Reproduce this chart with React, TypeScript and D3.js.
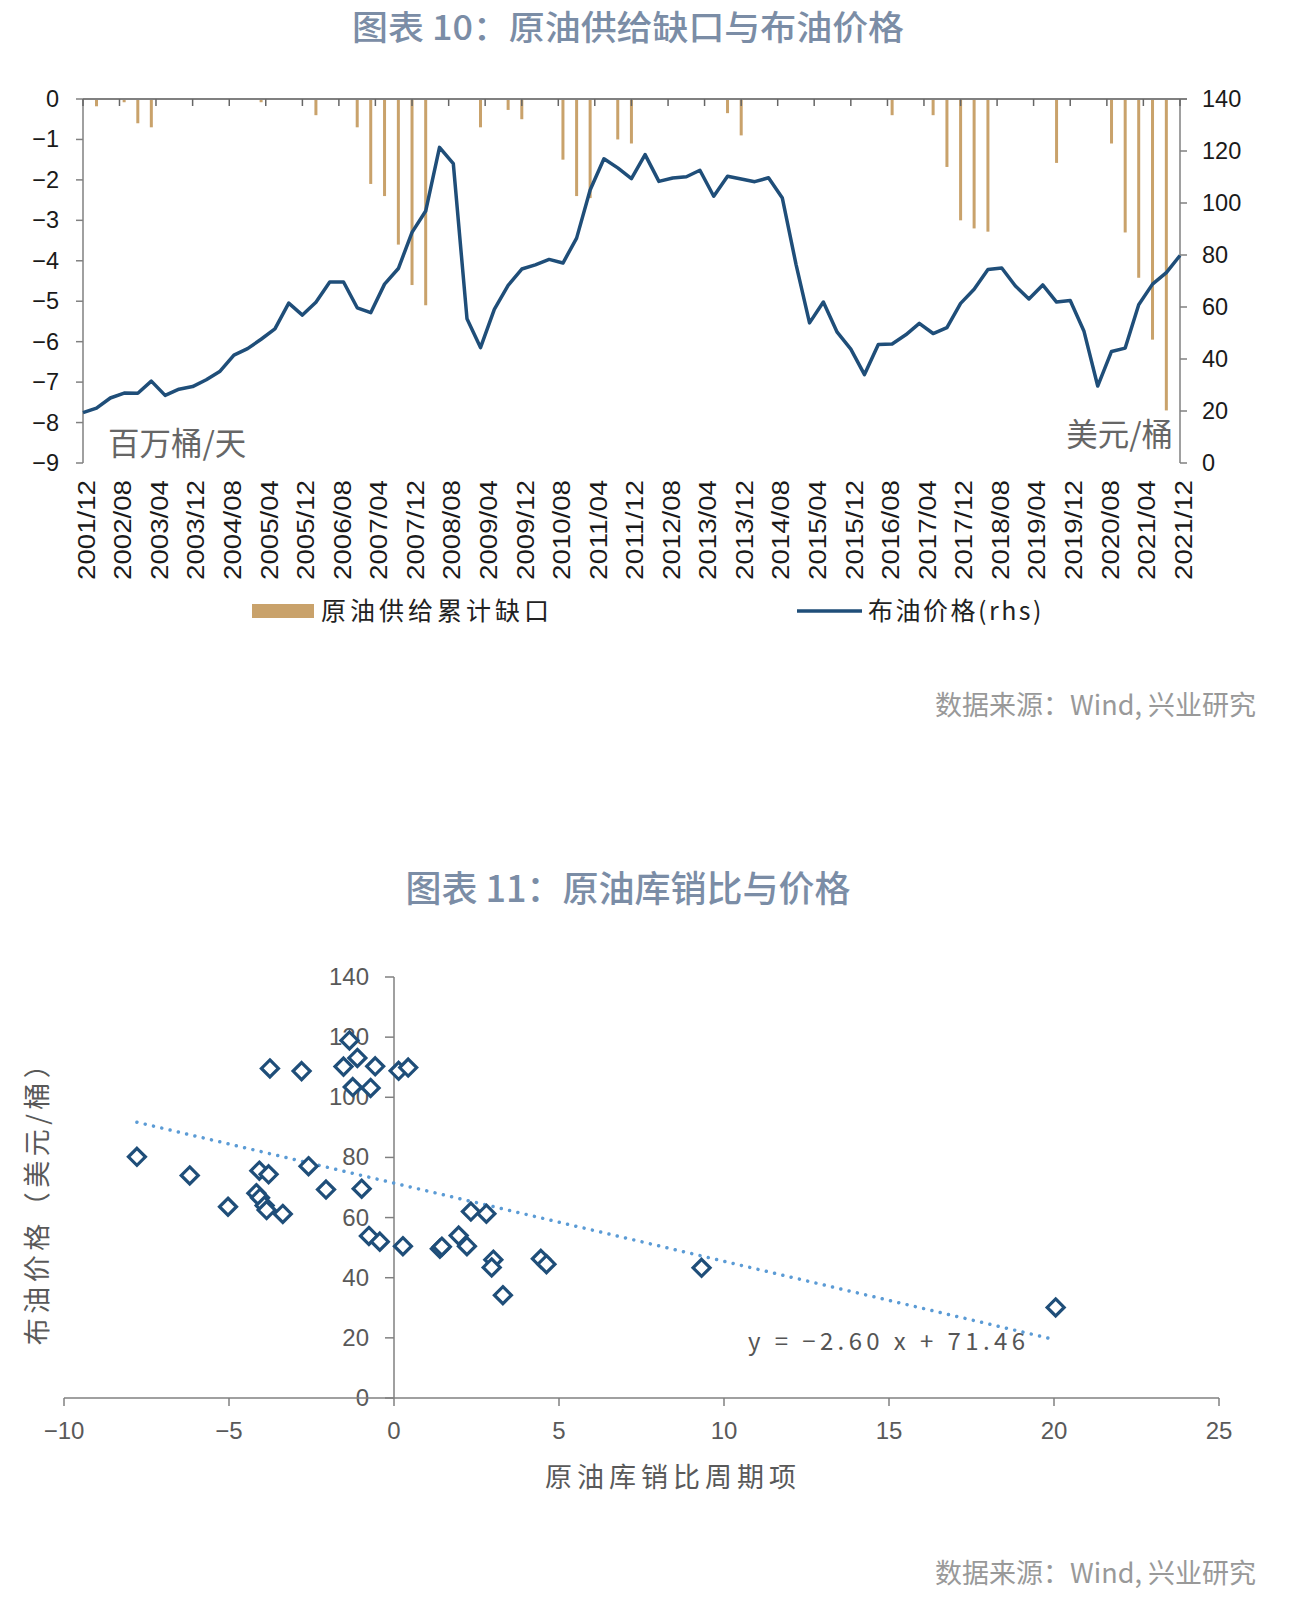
import React from "react";
import * as d3 from "d3";

// ---------- Chart 10 data (quarterly, starting 2001/12) ----------
const firstQuarter = "2001/12";
const brentPrice = [
  19.4, 21.1, 25.0, 26.9, 26.8, 31.5, 26.0, 28.4, 29.4, 32.0,
  35.3, 41.5, 44.0, 47.6, 51.6, 61.5, 56.9, 61.8, 69.6, 69.6,
  59.7, 57.8, 68.8, 74.8, 88.7, 96.9, 121.4, 115.1, 55.5, 44.4,
  59.1, 68.3, 74.6, 76.2, 78.3, 76.9, 86.5, 105.0, 117.0, 113.5,
  109.4, 118.6, 108.3, 109.6, 110.1, 112.6, 102.6, 110.3, 109.2, 108.2,
  109.7, 101.9, 76.4, 53.9, 61.9, 50.3, 43.8, 34.0, 45.6, 45.8,
  49.3, 53.7, 49.8, 52.1, 61.4, 66.8, 74.4, 75.0, 68.1, 63.1,
  68.5, 61.9, 62.5, 50.8, 29.6, 42.9, 44.2, 60.9, 68.8, 73.2,
  79.8,
];
const supplyGap = [
  0, -0.18, 0, -0.08, -0.6, -0.7, 0, 0, 0, 0,
  0, 0, 0, -0.08, 0, 0, 0, -0.4, 0, 0,
  -0.7, -2.1, -2.4, -3.6, -4.6, -5.1, 0, 0, 0, -0.7,
  0, -0.27, -0.5, 0, 0, -1.5, -2.4, -2.45, 0, -1.0,
  -1.1, 0, 0, 0, 0, 0, 0, -0.35, -0.9, 0,
  0, 0, 0, 0, 0, 0, 0, 0, 0, -0.4,
  0, 0, -0.4, -1.68, -3.0, -3.2, -3.28, 0, 0, 0,
  0, -1.58, 0, 0, 0, -1.1, -3.3, -4.42, -5.95, -7.7,
  0,
];
const dateTickLabels = [
  "2001/12", "2002/08", "2003/04", "2003/12", "2004/08", "2005/04", "2005/12",
  "2006/08", "2007/04", "2007/12", "2008/08", "2009/04", "2009/12", "2010/08",
  "2011/04", "2011/12", "2012/08", "2013/04", "2013/12", "2014/08", "2015/04",
  "2015/12", "2016/08", "2017/04", "2017/12", "2018/08", "2019/04", "2019/12",
  "2020/08", "2021/04", "2021/12",
];
const leftTicks = [0, -1, -2, -3, -4, -5, -6, -7, -8, -9];
const rightTicks = [0, 20, 40, 60, 80, 100, 120, 140];

// ---------- Chart 11 data ----------
const invSalesCycle = [
  -7.79, -6.19, -5.03, -4.08, -3.8, -4.17, -4.06, -3.92, -3.86, -3.37,
  -3.76, -2.8, -2.59, -2.06, -1.35, -1.53, -1.11, -1.25, -0.71, -0.57,
  -0.98, 0.14, 0.43, -0.76, -0.43, 0.27, 1.39, 1.45, 1.96, 2.21,
  2.33, 2.8, 3.01, 2.96, 3.3, 4.45, 4.62, 9.32, 20.05,
];
const brentScatter = [
  80.2, 74.0, 63.6, 75.6, 74.4, 68.1, 66.6, 64.0, 62.5, 61.2,
  109.6, 108.7, 77.1, 69.3, 118.9, 110.2, 113.1, 103.4, 103.1, 110.3,
  69.6, 108.8, 109.9, 53.9, 52.0, 50.5, 49.6, 50.3, 54.0, 50.5,
  62.0, 61.3, 46.0, 43.4, 34.2, 46.3, 44.5, 43.3, 30.1,
];
const trendSlope = -2.6;
const trendIntercept = 71.46;
const scatterXTicks = [-10, -5, 0, 5, 10, 15, 20, 25];
const scatterYTicks = [0, 20, 40, 60, 80, 100, 120, 140];

const BAR = "#C9A26B";
const NAVY = "#1F4E79";
const TITLE = "#7B8DA6";
const CJK = "'Noto Sans CJK SC', 'Noto Sans', sans-serif";
const LAT = "'Liberation Sans', Arial, sans-serif";
const minus = (v: number) => (v < 0 ? "\u2212" + Math.abs(v) : String(v));

export default function App() {
  const parseYM = d3.timeParse("%Y/%m");
  const start = parseYM(firstQuarter)!;
  const end = parseYM(dateTickLabels[dateTickLabels.length - 1])!;
  const xT = d3.scaleTime().domain([start, end]).range([83, 1180]);
  const yL = d3.scaleLinear().domain([-9, 0]).range([463, 99]);
  const yR = d3.scaleLinear().domain([0, 140]).range([463, 99]);
  const qDates = brentPrice.map((_, i) => d3.timeMonth.offset(start, 3 * i));
  const pricePath = d3
    .line<number>()
    .x((_, i) => xT(qDates[i]))
    .y((d) => yR(d))(brentPrice)!;

  const xs = d3.scaleLinear().domain([-10, 25]).range([64, 1219]);
  const ys = d3.scaleLinear().domain([0, 140]).range([1398, 977]);
  const [xmin, xmax] = d3.extent(invSalesCycle) as [number, number];
  const diamond = "M0,-8.5L8.5,0L0,8.5L-8.5,0Z";

  return (
    <svg
      width={1302}
      height={1624}
      style={{ position: "absolute", left: 0, top: 0, background: "#fff" }}
    >
      <rect width={1302} height={1624} fill="#fff" />
      {/* ===== Chart 10 ===== */}
      <text
        x={628}
        y={40}
        textAnchor="middle"
        fontFamily={CJK}
        fontSize={34}
        fontWeight={500}
        fill={TITLE}
        textLength={552}
        lengthAdjust="spacingAndGlyphs"
      >
        图表 10：原油供给缺口与布油价格
      </text>

      {/* bars */}
      {supplyGap.map((v, i) =>
        v < 0 ? (
          <rect key={i} x={xT(qDates[i]) - 1.5} y={yL(0)} width={3} height={yL(v) - yL(0)} fill={BAR} />
        ) : null
      )}

      {/* axes */}
      <line x1={83} x2={1187} y1={yL(0)} y2={yL(0)} stroke="#808080" strokeWidth={2} />
      <line x1={83} x2={83} y1={99} y2={463} stroke="#808080" strokeWidth={1.5} />
      <line x1={1180} x2={1180} y1={99} y2={463} stroke="#808080" strokeWidth={1.5} />
      {leftTicks.map((t) => (
        <g key={"l" + t}>
          <line x1={76} x2={83} y1={yL(t)} y2={yL(t)} stroke="#808080" strokeWidth={1.5} />
          <text x={59} y={yL(t) + 8} textAnchor="end" fontFamily={LAT} fontSize={23.5} fill="#1a1a1a">
            {minus(t)}
          </text>
        </g>
      ))}
      {rightTicks.map((t) => (
        <g key={"r" + t}>
          <line x1={1180} x2={1187} y1={yR(t)} y2={yR(t)} stroke="#808080" strokeWidth={1.5} />
          <text x={1202} y={yR(t) + 8} fontFamily={LAT} fontSize={23.5} fill="#1a1a1a">
            {t}
          </text>
        </g>
      ))}
      {dateTickLabels.map((lab) => {
        const tx = xT(parseYM(lab)!);
        return (
          <g key={lab}>
            <line x1={tx} x2={tx} y1={99} y2={106} stroke="#666" strokeWidth={1.5} />
            <text
              transform={`translate(${tx + 3.5},480) rotate(-90)`}
              dy="0.36em"
              textAnchor="end"
              fontFamily={LAT}
              fontSize={23}
              textLength={100}
              lengthAdjust="spacingAndGlyphs"
              fill="#1a1a1a"
            >
              {lab}
            </text>
          </g>
        );
      })}

      {/* price line */}
      <path d={pricePath} fill="none" stroke={NAVY} strokeWidth={3.5} strokeLinejoin="round" />

      <text x={108} y={455} fontFamily={CJK} fontSize={31.5} fill="#666">百万桶/天</text>
      <text x={1173} y={446} textAnchor="end" fontFamily={CJK} fontSize={31.5} fill="#666">美元/桶</text>

      {/* legend */}
      <rect x={252} y={604} width={62} height={14} fill={BAR} />
      <text x={321} y={620} fontFamily={CJK} fontSize={25} letterSpacing={4} fill="#222">原油供给累计缺口</text>
      <line x1={797} x2={862} y1={611} y2={611} stroke={NAVY} strokeWidth={3.5} />
      <text x={868} y={620} fontFamily={CJK} fontSize={25} letterSpacing={2.5} fill="#222">布油价格(rhs)</text>

      <text x={1256} y={715} textAnchor="end" fontFamily={CJK} fontSize={27} fill="#999">数据来源：Wind, 兴业研究</text>

      {/* ===== Chart 11 ===== */}
      <text x={628} y={902} textAnchor="middle" fontFamily={CJK} fontSize={36} fontWeight={500} fill={TITLE}>
        图表 11：原油库销比与价格
      </text>

      {scatterYTicks.map((t) => (
        <g key={"sy" + t}>
          <line x1={385} x2={xs(0)} y1={ys(t)} y2={ys(t)} stroke="#808080" strokeWidth={1.5} />
          <text x={369} y={ys(t) + 8} textAnchor="end" fontFamily={LAT} fontSize={24} fill="#595959">
            {t}
          </text>
        </g>
      ))}
      {scatterXTicks.map((t) => (
        <g key={"sx" + t}>
          <line x1={xs(t)} x2={xs(t)} y1={ys(0)} y2={ys(0) + 8} stroke="#808080" strokeWidth={1.5} />
          <text x={xs(t)} y={1439} textAnchor="middle" fontFamily={LAT} fontSize={24} fill="#595959">
            {minus(t)}
          </text>
        </g>
      ))}
      <line x1={xs(0)} x2={xs(0)} y1={ys(140)} y2={ys(0)} stroke="#808080" strokeWidth={1.5} />
      <line x1={xs(-10)} x2={xs(25)} y1={ys(0)} y2={ys(0)} stroke="#808080" strokeWidth={1.5} />

      <line
        x1={xs(xmin)}
        y1={ys(trendSlope * xmin + trendIntercept)}
        x2={xs(xmax)}
        y2={ys(trendSlope * xmax + trendIntercept)}
        stroke="#5B9BD5"
        strokeWidth={3.5}
        strokeDasharray="0.01 8.5"
        strokeLinecap="round"
      />

      {invSalesCycle.map((xv, i) => (
        <path
          key={i}
          d={diamond}
          transform={`translate(${xs(xv)},${ys(brentScatter[i])})`}
          fill="#fff"
          stroke={NAVY}
          strokeWidth={3.2}
        />
      ))}

      <text x={748} y={1350} fontFamily={CJK} fontSize={24} fill="#555" textLength={277} lengthAdjust="spacing">
        y = −2.60 x + 71.46
      </text>

      <text
        transform="translate(38,1196) rotate(-90)"
        textAnchor="middle"
        dy="0.35em"
        fontFamily={CJK}
        fontSize={27}
        letterSpacing={4.5}
        fill="#595959"
      >
        布油价格（美元/桶）
      </text>
      <text x={673} y={1487} textAnchor="middle" fontFamily={CJK} fontSize={27} letterSpacing={5} fill="#595959">
        原油库销比周期项
      </text>

      <text x={1256} y={1583} textAnchor="end" fontFamily={CJK} fontSize={27} fill="#999">数据来源：Wind, 兴业研究</text>
    </svg>
  );
}
